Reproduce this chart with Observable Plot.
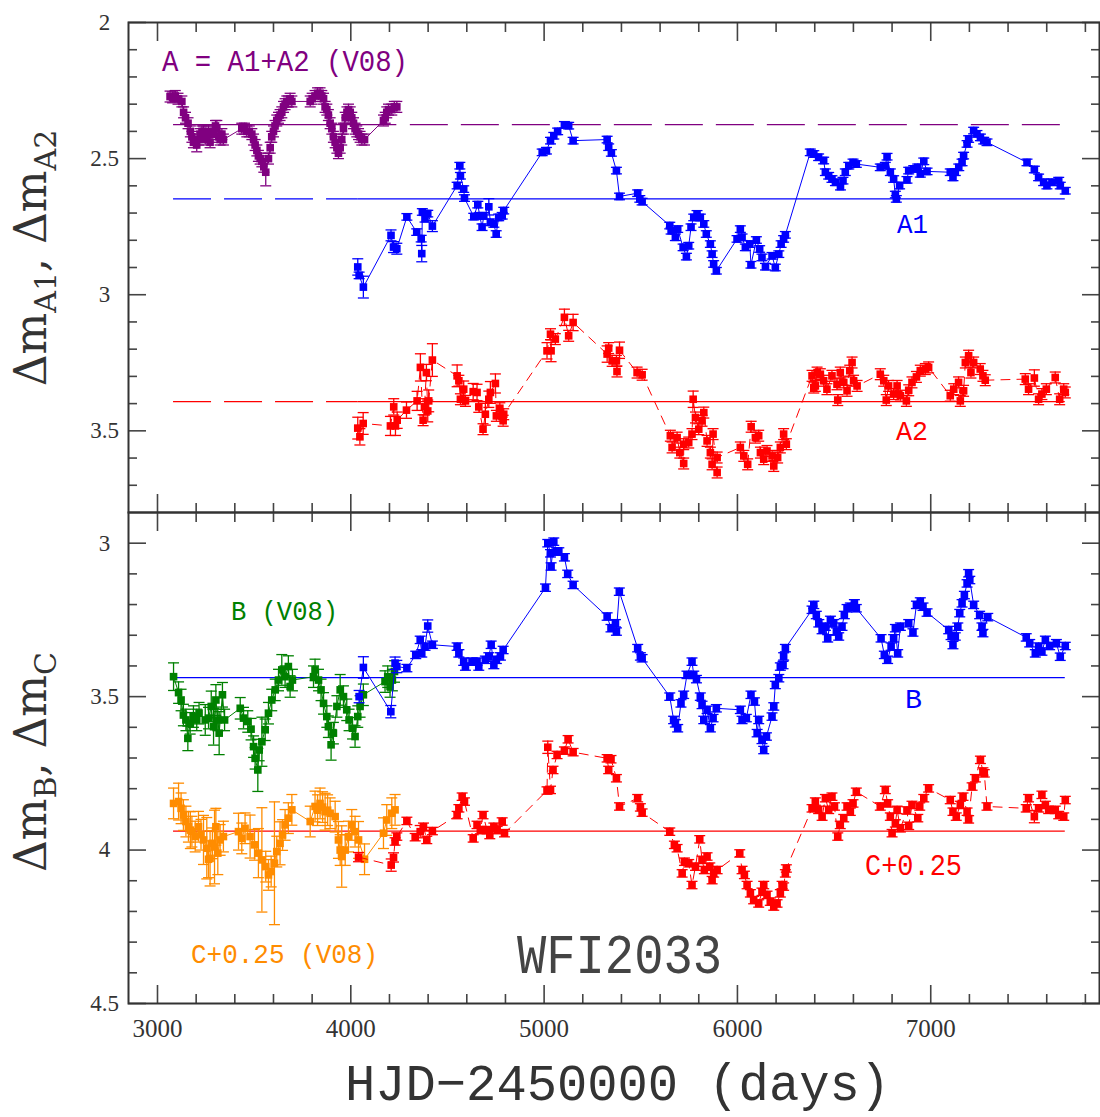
<!DOCTYPE html>
<html><head><meta charset="utf-8">
<script src="https://cdn.jsdelivr.net/npm/d3@7"></script>
<script src="https://cdn.jsdelivr.net/npm/@observablehq/plot@0.6"></script>
<style>
body{margin:0;background:#fff;}
#wrap{position:relative;width:1100px;height:1117px;overflow:hidden;background:#fff;}
#wrap > svg{position:absolute;left:0;}
</style></head><body><div id="wrap"></div>
<script>
// ---------- data: [HJD-2450000, magnitude, (optional error)] ----------
const seriesA_V08 = [
[3065,2.272],[3078,2.275],[3092,2.27],[3106,2.28],[3126,2.29],[3135,2.33],[3145,2.35],[3158,2.37],[3170,2.40],[3178,2.42],[3186,2.44],[3203,2.45,0.025],[3212,2.43],[3220,2.41],[3230,2.40],[3238,2.40],[3247,2.43],[3255,2.42],[3264,2.40],[3272,2.44],[3282,2.41],[3290,2.40],[3300,2.38],[3307,2.39,0.03],[3316,2.42],[3324,2.43],[3333,2.41],[3341,2.43],
[3436,2.39],[3450,2.39],[3462,2.40],[3475,2.40],[3488,2.41],[3497,2.43],[3505,2.45],[3514,2.47],[3522,2.49],[3531,2.50],[3540,2.51],[3550,2.53],[3560,2.55,0.05],[3574,2.50],[3583,2.46],[3591,2.42],[3600,2.40],[3608,2.38],[3617,2.36],[3626,2.35],[3634,2.34],[3643,2.33],[3652,2.31],[3660,2.30],[3669,2.29],[3677,2.29],[3686,2.28],[3695,2.29],
[3790,2.29],[3800,2.28],[3815,2.27],[3828,2.26],[3841,2.26],[3850,2.27],[3859,2.28],[3867,2.31],[3876,2.32],[3884,2.34],[3893,2.37],[3902,2.39],[3910,2.42],[3919,2.44],[3928,2.46],[3936,2.48],[3945,2.46],[3953,2.43],[3962,2.39],[3971,2.35],[3980,2.33],[3988,2.32],[3997,2.33],[4005,2.35],[4014,2.37],[4022,2.39],[4031,2.40],[4040,2.41],[4048,2.42],[4057,2.43],[4071,2.43],
[4169,2.36],[4178,2.35],[4186,2.33],[4195,2.32],[4212,2.32],[4225,2.31],[4238,2.31]
];
const seriesA1 = [
[4036,2.898,0.03],[4043,2.929],[4065,2.972,0.04],[4208,2.782,0.02],[4221,2.825,0.02],[4238,2.831,0.02],[4290,2.714],[4341,2.770],[4364,2.794],[4367,2.849,0.03],[4370,2.696],[4384,2.721],[4398,2.702],[4422,2.748,0.02],
[4550,2.599],[4564,2.526],[4567,2.563],[4584,2.612],[4588,2.645],[4636,2.713],[4657,2.669],[4667,2.710],[4679,2.752],[4688,2.710],[4714,2.677,0.03],[4722,2.734],[4740,2.740],[4752,2.777],[4765,2.716],[4783,2.710],[4791,2.691],
[4990,2.477],[5012,2.471],[5033,2.434],[5050,2.416],[5070,2.400],[5105,2.376],[5127,2.379],[5150,2.434],
[5326,2.430],[5334,2.458],[5348,2.479],[5374,2.544],[5390,2.639],
[5484,2.627],[5495,2.648],[5507,2.658],
[5650,2.746],[5657,2.765],[5679,2.789],[5691,2.759],[5719,2.826],[5736,2.860],[5748,2.820],[5760,2.752],[5774,2.716],[5791,2.703],[5808,2.716],[5826,2.740],[5839,2.777],[5860,2.814],[5869,2.851],[5877,2.887],[5891,2.912],
[5998,2.795],[6015,2.759],[6024,2.789],[6041,2.826],[6064,2.814],[6070,2.890],[6098,2.799],[6115,2.832],[6127,2.863],[6145,2.897],[6179,2.857],[6196,2.900],[6214,2.851],[6226,2.814],[6239,2.795],[6248,2.780],
[6377,2.477],[6395,2.483],[6420,2.495],[6446,2.507],[6455,2.550],[6472,2.563],[6489,2.575],[6507,2.587],[6533,2.603],[6546,2.581],[6558,2.550],[6576,2.526],[6598,2.514],[6615,2.520],
[6739,2.532],[6765,2.526],[6774,2.493],[6791,2.550],[6808,2.575],[6817,2.632],[6822,2.648],[6839,2.599],[6877,2.578],[6886,2.544],[6912,2.538],[6933,2.532],[6946,2.556],[6964,2.510],[6981,2.547],
[7101,2.550],[7115,2.569],[7127,2.550],[7145,2.532],[7162,2.514],[7170,2.489],[7188,2.446],[7196,2.428],[7222,2.397],[7239,2.409],[7257,2.422],[7274,2.434],[7291,2.440],
[7498,2.514],[7536,2.540],[7558,2.569],[7584,2.587],[7601,2.599],[7627,2.587],[7662,2.581],[7670,2.599],[7696,2.618]
];
const seriesA2 = [
[4036,3.490,0.04],[4047,3.522,0.03],[4064,3.473,0.04],
[4205,3.482,0.035],[4222,3.412,0.03],[4231,3.482,0.035],[4240,3.461,0.03],[4288,3.424,0.03],[4343,3.390,0.035],[4360,3.267,0.05],[4374,3.461],[4381,3.412,0.03],[4391,3.286,0.03],[4398,3.427,0.04],[4403,3.390,0.04],[4422,3.240,0.06],
[4550,3.298,0.04],[4559,3.316],[4567,3.384],[4584,3.347,0.03],[4593,3.390],[4633,3.356,0.03],[4653,3.359,0.03],[4662,3.412],[4684,3.494],[4696,3.439,0.04],[4714,3.384,0.03],[4722,3.359,0.04],[4748,3.326,0.035],[4753,3.445],[4771,3.417],[4788,3.463],[4791,3.439],
[5015,3.206,0.03],[5033,3.145],[5036,3.206,0.04],[5058,3.163],[5105,3.083,0.03],[5127,3.151],[5150,3.102,0.03],
[5326,3.218,0.03],[5334,3.196],[5352,3.243],[5374,3.243],[5377,3.282],[5390,3.204,0.03],
[5481,3.286],[5507,3.294],
[5653,3.518],[5662,3.561],[5688,3.525],[5702,3.580],[5722,3.620],[5722,3.549],[5748,3.543],[5765,3.512],[5771,3.384,0.03],[5783,3.451],[5800,3.494],[5817,3.463],[5826,3.433],[5843,3.537],[5860,3.580],[5869,3.623],[5874,3.512],[5895,3.653],[5895,3.598],
[6015,3.561],[6033,3.592],[6053,3.623],[6071,3.485],[6093,3.525],[6110,3.518],[6119,3.580],[6136,3.604],[6153,3.574],[6179,3.592],[6188,3.629],[6208,3.598],[6222,3.561],[6239,3.512],[6253,3.549],
[6386,3.298],[6395,3.341],[6403,3.335],[6412,3.286],[6429,3.292],[6446,3.316],[6463,3.347],[6489,3.298],[6515,3.329],[6519,3.387],[6532,3.286],[6550,3.322],[6567,3.353],[6581,3.279],[6593,3.249],[6601,3.316],[6619,3.335],
[6739,3.292],[6757,3.316],[6770,3.387],[6782,3.335],[6808,3.365],[6826,3.335],[6843,3.371],[6874,3.390],[6886,3.351],[6903,3.322],[6926,3.302],[6946,3.279],[6972,3.273],[6989,3.267],
[7101,3.371],[7119,3.347],[7144,3.322],[7153,3.390],[7170,3.353],[7179,3.249],[7196,3.224],[7208,3.286],[7222,3.249],[7256,3.273],[7270,3.298],[7282,3.314],
[7489,3.310],[7506,3.347],[7536,3.306,0.03],[7558,3.384],[7575,3.365],[7598,3.347],[7644,3.304],[7667,3.384],[7688,3.347],[7696,3.359]
];
const seriesB_V08 = [
[3083,3.435,0.045],[3109,3.487],[3122,3.511],[3134,3.560],[3147,3.576],[3157,3.636,0.04],[3169,3.587],[3186,3.565],[3203,3.576],[3215,3.554],[3247,3.576,0.05],[3264,3.570],[3278,3.532,0.05],[3290,3.598,0.06],[3302,3.511,0.05],[3312,3.576],[3319,3.619,0.07],[3336,3.494,0.04],[3347,3.576],
[3428,3.538],[3445,3.570],[3467,3.581],[3484,3.606],[3497,3.663],[3505,3.701],[3519,3.739,0.07],[3526,3.674],[3540,3.647,0.08],[3557,3.608],[3574,3.554],[3591,3.511],[3609,3.478],[3626,3.446],[3643,3.413,0.05],[3660,3.435],[3677,3.402],[3686,3.467],[3698,3.446],
[3807,3.435],[3815,3.413],[3833,3.446],[3846,3.478],[3859,3.522],[3876,3.565],[3884,3.598],[3898,3.657,0.05],[3910,3.619],[3928,3.532],[3945,3.478,0.05],[3962,3.500],[3979,3.543],[3991,3.576],[4009,3.603],[4022,3.630],[4036,3.565],[4048,3.532],[4065,3.494],
[4177,3.451],[4191,3.435],[4203,3.467],[4215,3.446],[4226,3.418]
];
const seriesB = [
[4043,3.500,0.02],[4065,3.405,0.035],[4207,3.549,0.02],[4229,3.391,0.02],[4238,3.402,0.02],[4290,3.407],[4336,3.364],[4359,3.315],[4367,3.359],[4384,3.337],[4398,3.270,0.02],[4422,3.331],
[4550,3.337],[4559,3.359],[4584,3.386],[4593,3.402],[4627,3.386],[4653,3.386],[4662,3.402],[4696,3.380],[4714,3.369],[4726,3.331],[4740,3.397],[4753,3.380],[4774,3.369],[4788,3.348],
[5007,3.145],[5019,3.000],[5033,3.033],[5036,3.076],[5050,2.995],[5064,3.027],[5076,3.027],[5105,3.046],[5122,3.100],[5150,3.136],
[5326,3.239],[5346,3.277],[5369,3.261],[5374,3.288],[5389,3.158],
[5484,3.342],[5498,3.369],[5507,3.375],
[5650,3.500],[5670,3.576],[5679,3.587],[5691,3.603],[5708,3.522],[5722,3.494],[5739,3.429],[5765,3.386],[5774,3.429],[5788,3.443],[5808,3.500],[5817,3.527],[5826,3.576],[5843,3.543],[5860,3.603],[5874,3.570],[5891,3.538],
[6015,3.543],[6024,3.576],[6046,3.570],[6070,3.494],[6088,3.516],[6102,3.619],[6110,3.576],[6127,3.641],[6136,3.674],[6150,3.630],[6179,3.565],[6188,3.532],[6196,3.462],[6214,3.440],[6222,3.402],[6236,3.397],[6239,3.369],[6248,3.342],
[6386,3.217],[6395,3.201],[6408,3.234],[6421,3.261],[6438,3.283],[6455,3.272],[6467,3.310],[6481,3.250],[6498,3.261],[6512,3.288],[6524,3.304],[6541,3.272],[6553,3.234],[6567,3.212],[6584,3.207],[6605,3.196],[6615,3.212],
[6743,3.310],[6760,3.364],[6777,3.380],[6795,3.337],[6808,3.310],[6817,3.277],[6829,3.359],[6843,3.272],[6886,3.261],[6908,3.291],[6926,3.201],[6946,3.190],[6960,3.207],[6981,3.226],
[7093,3.283],[7105,3.302],[7115,3.332],[7127,3.304],[7140,3.272],[7150,3.228],[7162,3.196],[7174,3.169],[7188,3.131],[7196,3.098],[7202,3.120],[7222,3.201],[7253,3.234],[7265,3.272],[7270,3.293],[7295,3.241],
[7494,3.307],[7512,3.326],[7541,3.359],[7558,3.337],[7575,3.353],[7593,3.315],[7615,3.335],[7650,3.326],[7670,3.370],[7696,3.335]
];
const seriesC_V08 = [
[3083,3.848,0.05],[3109,3.842,0.06],[3122,3.864],[3134,3.886],[3147,3.907],[3160,3.924],[3170,3.935,0.06],[3178,3.940],[3195,3.956],[3212,3.924],[3225,3.950],[3238,3.967,0.08],[3255,3.994,0.1],[3264,4.030,0.06],[3272,4.027,0.09],[3284,3.978],[3295,3.990,0.12],[3302,3.924,0.06],[3312,4.010,0.07],[3324,3.967],[3341,3.956],
[3419,3.940,0.06],[3436,3.962],[3453,3.929],[3479,3.956,0.07],[3502,3.983],[3522,4.010,0.08],[3540,4.032,0.17],[3560,4.054],[3574,4.081],[3588,4.070],[3605,4.043,0.2],[3617,4.005],[3634,3.978,0.07],[3647,3.951],[3660,3.918],[3677,3.896],[3695,3.869],
[3790,3.907],[3815,3.858],[3828,3.870],[3841,3.848],[3854,3.860],[3867,3.875,0.06],[3880,3.870],[3893,3.880],[3919,3.891],[3936,3.967,0.06],[3945,4.000],[3953,4.021,0.1],[3971,4.000],[3988,3.956],[4005,3.918],[4022,3.940],[4040,3.967,0.06],[4071,4.030],
[4169,3.945],[4186,3.902],[4212,3.880],[4229,3.869]
];
const seriesC = [
[4040,4.023,0.015],[4209,4.049,0.02],[4221,4.024,0.015],[4229,3.972],[4238,3.956],[4290,3.905],[4333,3.958],[4359,3.940,0.02],[4376,3.924],[4393,3.967],[4422,3.938],
[4550,3.886],[4559,3.864],[4576,3.826],[4588,3.842],[4633,3.962],[4653,3.918],[4670,3.935],[4684,3.886],[4705,3.935],[4719,3.951],[4740,3.924],[4757,3.935],[4783,3.907],[4795,3.945],
[5015,3.806],[5019,3.665,0.02],[5033,3.804],[5046,3.739],[5067,3.690],[5105,3.676],[5124,3.639],[5150,3.681],
[5326,3.701],[5334,3.739],[5346,3.704],[5374,3.766],[5390,3.858],
[5484,3.831],[5498,3.861],[5507,3.878],
[5650,3.940],[5674,3.983],[5688,3.994],[5714,4.076],[5726,4.038],[5748,4.043],[5765,4.114],[5783,4.054],[5805,3.965],[5817,4.032],[5829,4.065],[5843,4.021],[5857,4.054],[5869,4.098],[5877,4.076],[5895,4.065],
[6012,4.011],[6024,4.065],[6036,4.081],[6050,4.114],[6067,4.141],[6084,4.163],[6110,4.174],[6127,4.136],[6136,4.114],[6153,4.146],[6170,4.168],[6188,4.184],[6205,4.174],[6222,4.141],[6231,4.114],[6239,4.119],[6248,4.076],[6253,4.060],
[6386,3.864],[6403,3.842],[6420,3.869],[6438,3.891],[6455,3.831],[6472,3.869],[6489,3.826],[6502,3.858],[6519,3.956],[6532,3.918],[6550,3.896],[6567,3.858],[6584,3.875],[6598,3.848],[6615,3.810],
[6739,3.858],[6765,3.804],[6777,3.848],[6791,3.891],[6800,3.945],[6817,3.913],[6826,3.869],[6843,3.929],[6877,3.871],[6886,3.921],[6903,3.853],[6933,3.896],[6943,3.858],[6964,3.831],[6989,3.799],
[7101,3.837],[7115,3.875],[7132,3.891],[7153,3.853],[7167,3.826],[7188,3.875],[7196,3.900],[7214,3.793],[7231,3.766],[7257,3.706],[7270,3.744],[7277,3.750],[7291,3.858],
[7494,3.864],[7506,3.831],[7536,3.891,0.02],[7558,3.864],[7575,3.820],[7593,3.853],[7610,3.869],[7644,3.869],[7662,3.886],[7688,3.891],[7696,3.837]
];
// mean levels (horizontal reference lines) and their time extent
const meanA = 2.375, meanA1 = 2.648, meanA2 = 3.393, meanB = 3.438, meanC = 3.938;
const refStart = 3083, refEnd = 7696;
// default error bars per series
const errA = 0.02, errA1 = 0.012, errA2 = 0.02, errBV = 0.035, errB = 0.012, errCV = 0.05, errC = 0.012;
// ticks
const xMajor = [3000, 4000, 5000, 6000, 7000];
const xMinor = [3200,3400,3600,3800,4200,4400,4600,4800,5200,5400,5600,5800,6200,6400,6600,6800,7200,7400,7600,7800];
const yMajorTop = [2, 2.5, 3, 3.5];
const yMinorTop = [2.1,2.2,2.3,2.4,2.6,2.7,2.8,2.9,3.1,3.2,3.3,3.4,3.6,3.7];
const yMajorBot = [3, 3.5, 4, 4.5];
const yMinorBot = [3.1,3.2,3.3,3.4,3.6,3.7,3.8,3.9,4.1,4.2,4.3,4.4];
const xDomain = [2850, 7873];

// ---------- helpers ----------
const COL = {purple:"#800080", blue:"#0000ff", red:"#ff0000", green:"#008000", orange:"#ff8c00"};
const toRows = (arr, e) => arr.map(([d, m, er]) => ({day: d, mag: m, err: er ?? e})).sort((a, b) => a.day - b.day);
const capSym = {draw(ctx, size) { const r = Math.sqrt(size / Math.PI); ctx.moveTo(-r, 0); ctx.lineTo(r, 0); }};
function seriesMarks(data, color, dash) {
  return [
    Plot.line(data, {x: "day", y: "mag", stroke: color, strokeWidth: 1, strokeDasharray: dash}),
    Plot.ruleX(data, {x: "day", y1: d => d.mag - d.err, y2: d => d.mag + d.err, stroke: color, strokeWidth: 1.3}),
    Plot.dot(data, {x: "day", y: d => d.mag - d.err, symbol: capSym, r: 5.5, stroke: color, fill: "none", strokeWidth: 1.3}),
    Plot.dot(data, {x: "day", y: d => d.mag + d.err, symbol: capSym, r: 5.5, stroke: color, fill: "none", strokeWidth: 1.3}),
    Plot.dot(data, {x: "day", y: "mag", symbol: "square", r: 4.3, fill: color, stroke: "none"})
  ];
}
function refLine(y, x1, x2, color, dash) {
  return Plot.ruleY([{y, x1, x2}], {y: "y", x1: "x1", x2: "x2", stroke: color, strokeWidth: 1.3, strokeDasharray: dash});
}
const tk = {stroke: "#444", strokeWidth: 1.6, label: null, tickFormat: () => ""};
function boxTicks(yMaj, yMin, withXLabels) {
  const m = [];
  for (const a of ["left", "right"]) {
    m.push(Plot.axisY({...tk, ticks: yMaj, anchor: a, tickSize: -18}));
    m.push(Plot.axisY({...tk, ticks: yMin, anchor: a, tickSize: -9}));
  }
  for (const a of ["top", "bottom"]) {
    m.push(Plot.axisX({...tk, ticks: xMajor, anchor: a, tickSize: -18}));
    m.push(Plot.axisX({...tk, ticks: xMinor, anchor: a, tickSize: -9}));
  }
  m.push(Plot.axisY({ticks: yMaj, anchor: "left", tickSize: 0, tickPadding: 24, textAnchor: "middle", label: null,
    tickFormat: d => String(d), fill: "#333", fontSize: 23}));
  if (withXLabels) m.push(Plot.axisX({ticks: xMajor, anchor: "bottom", tickSize: 0, tickPadding: 16, label: null,
    tickFormat: d => String(d), fill: "#333", fontSize: 25}));
  m.push(Plot.frame({stroke: "#333", strokeWidth: 2}));
  return m;
}
const plotStyle = {fontFamily: "'Liberation Serif', serif", background: "transparent", overflow: "visible", color: "#333"};

function draw() {
  const A = toRows(seriesA_V08, errA), A1 = toRows(seriesA1, errA1), A2 = toRows(seriesA2, errA2);
  const BV = toRows(seriesB_V08, errBV), B = toRows(seriesB, errB), CV = toRows(seriesC_V08, errCV), C = toRows(seriesC, errC);
  const first = s => s[0].day, last = s => s[s.length - 1].day;
  const LD = "38,13";

  const topPlot = Plot.plot({
    width: 1100, height: 512, marginTop: 22, marginBottom: 0, marginLeft: 128, marginRight: 1,
    x: {domain: xDomain, label: null}, y: {domain: [3.8, 2], label: null}, style: plotStyle,
    marks: [
      refLine(meanA, refStart, last(A), COL.purple),
      refLine(meanA, last(A) + 70, refEnd, COL.purple, LD),
      refLine(meanA1, refStart, first(A1), COL.blue, LD),
      refLine(meanA1, first(A1), refEnd, COL.blue),
      refLine(meanA2, refStart, first(A2), COL.red, LD),
      refLine(meanA2, first(A2), refEnd, COL.red),
      ...seriesMarks(A, COL.purple),
      ...seriesMarks(A1, COL.blue),
      ...seriesMarks(A2, COL.red, "9,7"),
      ...boxTicks(yMajorTop, yMinorTop, false)
    ]
  });
  const botPlot = Plot.plot({
    width: 1100, height: 605, marginTop: 0, marginBottom: 114, marginLeft: 128, marginRight: 1,
    x: {domain: xDomain, label: null}, y: {domain: [4.5, 2.9], label: null}, style: plotStyle,
    marks: [
      refLine(meanB, refStart, refEnd, COL.blue),
      refLine(meanC, refStart, refEnd, COL.red),
      ...seriesMarks(BV, COL.green),
      ...seriesMarks(CV, COL.orange),
      ...seriesMarks(B, COL.blue),
      ...seriesMarks(C, COL.red, "9,7"),
      ...boxTicks(yMajorBot, yMinorBot, true)
    ]
  });
  const wrap = document.getElementById("wrap");
  topPlot.style.top = "0px"; botPlot.style.top = "512px";
  wrap.appendChild(topPlot); wrap.appendChild(botPlot);

  // ---------- annotations & axis titles ----------
  const mono = "'Liberation Mono', monospace";
  const ov = document.createElementNS("http://www.w3.org/2000/svg", "svg");
  ov.setAttribute("width", 1100); ov.setAttribute("height", 1117);
  ov.style.top = "0px"; ov.style.pointerEvents = "none";
  ov.innerHTML = `
  <g font-family="${mono}">
   <text x="162" y="71" font-size="29" fill="${COL.purple}" textLength="246" lengthAdjust="spacingAndGlyphs">A = A1+A2 (V08)</text>
   <text x="897" y="233" font-size="28" fill="${COL.blue}" textLength="31" lengthAdjust="spacingAndGlyphs">A1</text>
   <text x="896" y="440" font-size="28" fill="${COL.red}" textLength="32" lengthAdjust="spacingAndGlyphs">A2</text>
   <text x="231" y="620" font-size="28" fill="${COL.green}" textLength="107" lengthAdjust="spacingAndGlyphs">B (V08)</text>
   <text x="905" y="708" font-size="28" fill="${COL.blue}" textLength="17" lengthAdjust="spacingAndGlyphs">B</text>
   <text x="865" y="875" font-size="29" fill="${COL.red}" textLength="97" lengthAdjust="spacingAndGlyphs">C+0.25</text>
   <text x="191" y="963" font-size="28" fill="${COL.orange}" textLength="187" lengthAdjust="spacingAndGlyphs">C+0.25 (V08)</text>
   <text x="517" y="973" font-size="56" fill="#444" textLength="205" lengthAdjust="spacingAndGlyphs">WFI2033</text>
   <text x="345" y="1100" font-size="52" fill="#333" textLength="545" lengthAdjust="spacingAndGlyphs">HJD−2450000 (days)</text>
  </g>
  <g font-family="'DejaVu Serif', serif" fill="#333">
   <text transform="translate(46,258) rotate(-90)" text-anchor="middle" font-size="44">Δm<tspan font-size="30" dy="10">A1</tspan><tspan dy="-10">, Δm</tspan><tspan font-size="30" dy="10">A2</tspan></text>
   <text transform="translate(46,762) rotate(-90)" text-anchor="middle" font-size="44">Δm<tspan font-size="30" dy="10">B</tspan><tspan dy="-10">, Δm</tspan><tspan font-size="30" dy="10">C</tspan></text>
  </g>`;
  wrap.appendChild(ov);
}
draw();
</script>
</body></html>
